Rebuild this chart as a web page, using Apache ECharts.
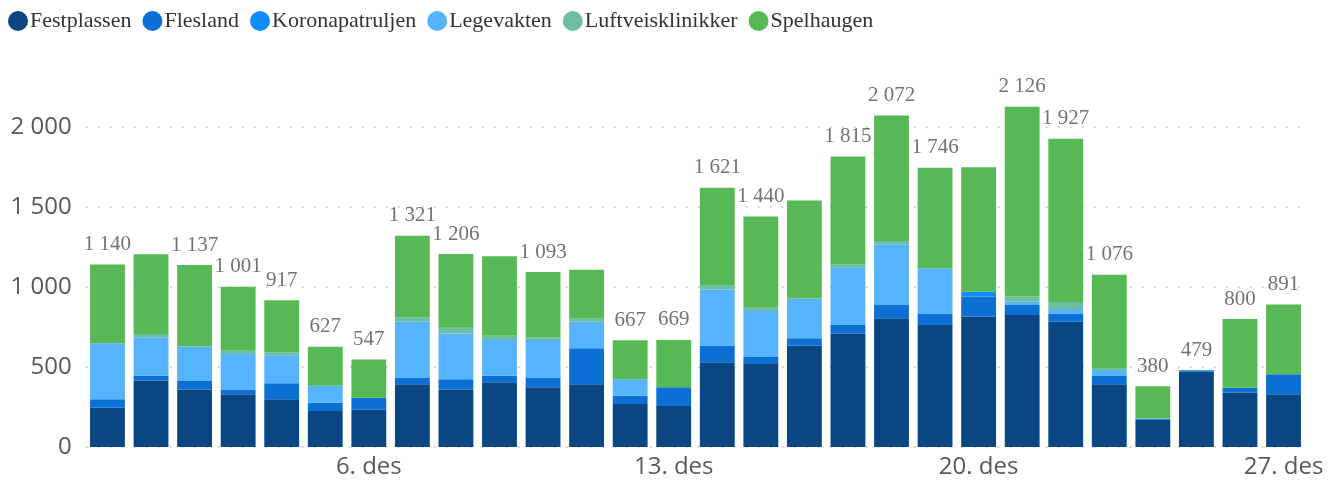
<!DOCTYPE html>
<html>
<head>
<meta charset="utf-8">
<script src="https://cdn.jsdelivr.net/npm/echarts@6/dist/echarts.min.js"></script>
<style>
html,body{margin:0;padding:0;background:#fff;}
#chart{width:1337px;height:486px;}
</style>
</head>
<body>
<div id="chart"></div>
<script>
// Days (30. nov – 27. des)
const categories = ['30. nov','1. des','2. des','3. des','4. des','5. des','6. des','7. des','8. des','9. des','10. des','11. des','12. des','13. des','14. des','15. des','16. des','17. des','18. des','19. des','20. des','21. des','22. des','23. des','24. des','25. des','26. des','27. des'];

const festplassen      = [246,415,360,329,298,225,235,392,360,404,373,392,269,256,529,519,635,710,804,762,815,825,783,392,173,471,340,329];
const flesland         = [ 52, 31, 52, 31,100, 52, 73, 43, 63, 42, 62,225, 52,117,106, 43, 44, 52, 83, 73,125, 62, 52, 52,  0,  8, 31,125];
const koronapatruljen  = [  0,  0,  0,  0,  0,  0,  0,  0,  0,  0,  0,  0,  0,  0,  0,  0,  0,  0,  0,  0, 31,  0,  0,  0,  0,  0,  0,  0];
const legevakten       = [350,240,215,221,175,106,  0,348,287,223,234,166,102,  0,350,288,246,361,380,282,  0, 21, 27, 37,  6,  0,  0,  0];
const luftveisklinikker= [  0, 20,  5, 21, 19,  0,  0, 27, 40, 27, 16, 19,  0,  0, 27, 25,  5, 19, 20,  0,  0, 32, 44,  8,  0,  0,  0,  0];
const spelhaugen       = [492,498,505,399,325,244,239,511,456,496,408,306,244,296,609,565,610,673,785,629,777,1186,1021,587,201,0,429,437];

// Which day totals carry a visible data label (1 = shown)
const totalLabelShown  = [1,0,1,1,1,1,1,1,1,0,1,0,1,1,1,1,0,1,1,1,0,1,1,1,1,1,1,1];

// Y axis ticks
const yTicks = [0, 500, 1000, 1500, 2000];
// X axis labelled days
const xTickLabels = ['6. des','13. des','20. des','27. des'];

const seriesDefs = [
  {name:'Festplassen', data:festplassen, color:'#0a4682'},
  {name:'Flesland', data:flesland, color:'#0b6fd3'},
  {name:'Koronapatruljen', data:koronapatruljen, color:'#118dff'},
  {name:'Legevakten', data:legevakten, color:'#55b4fc'},
  {name:'Luftveisklinikker', data:luftveisklinikker, color:'#6ebfa2'},
  {name:'Spelhaugen', data:spelhaugen, color:'#57b955'}
];

const totals = categories.map((_, i) => seriesDefs.reduce((s, d) => s + d.data[i], 0));

function fmt(v){ return String(v).replace(/\B(?=(\d{3})+(?!\d))/g, ' '); }

const chart = echarts.init(document.getElementById('chart'), null, {renderer:'canvas'});

const series = seriesDefs.map(d => ({
  name: d.name,
  type: 'bar',
  stack: 'total',
  data: d.data,
  clip: false,
  barCategoryGap: '20%',
  itemStyle: {color: d.color},
  emphasis: {disabled: true}
}));

series.push({
  name: 'Totalt',
  type: 'scatter',
  data: totals,
  symbol: 'circle',
  symbolSize: 1,
  clip: false,
  silent: true,
  itemStyle: {color: 'rgba(0,0,0,0)'},
  label: {
    show: true,
    position: 'top',
    distance: 9,
    formatter: p => totalLabelShown[p.dataIndex] === 1 ? fmt(p.value) : '',
    color: '#4f4f4f',
    fontFamily: '"Liberation Serif", serif',
    fontSize: 21
  },
  z: 5
});

chart.setOption({
  animation: false,
  legend: {
    data: seriesDefs.map(d => ({name: d.name, itemStyle: {color: d.color}})),
    left: 3,
    top: 5,
    icon: 'circle',
    itemWidth: 20,
    itemHeight: 20,
    itemGap: 11,
    textStyle: {
      fontFamily: '"Liberation Serif", serif',
      fontSize: 22,
      color: '#333333',
      padding: [0, 0, 0, -3]
    },
    selectedMode: false
  },
  grid: {left: 85.7, right: 31.7, top: 127, bottom: 39, containLabel: false},
  xAxis: {
    type: 'category',
    data: categories,
    axisLine: {show: false},
    axisTick: {show: false},
    axisLabel: {
      interval: 0,
      formatter: v => xTickLabels.indexOf(v) >= 0 ? v : '',
      color: '#5a5856',
      fontFamily: '"Open Sans", sans-serif',
      fontSize: 24,
      margin: 8
    }
  },
  yAxis: {
    type: 'value',
    min: yTicks[0],
    max: yTicks[yTicks.length - 1],
    interval: 500,
    axisLine: {show: false},
    axisTick: {show: false},
    splitLine: {lineStyle: {color: '#c8c8c8', type: [2, 10], width: 1.5}},
    axisLabel: {
      formatter: v => fmt(v),
      color: '#5a5856',
      fontFamily: '"Open Sans", sans-serif',
      fontSize: 24,
      margin: 14
    }
  },
  series: series
});
</script>
</body>
</html>
